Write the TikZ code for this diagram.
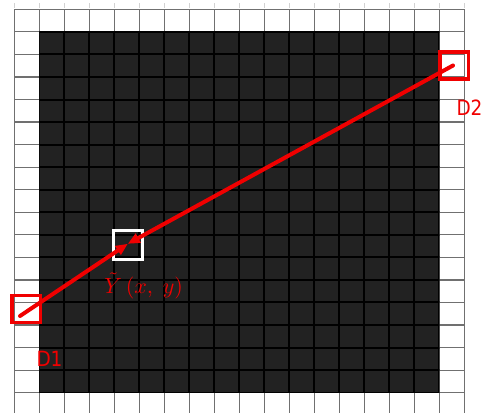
\documentclass[tikz,border=0pt]{standalone}
\usepackage{fontspec}
\newfontfamily\labfont[FakeStretch=0.88]{DejaVu Sans}
\usetikzlibrary{arrows.meta}
\definecolor{darkfill}{HTML}{222222}
\definecolor{gridgray}{HTML}{707070}
\definecolor{sred}{HTML}{F00000}
\begin{document}
\begin{tikzpicture}[x=1pt,y=-1pt,
  sq/.style={draw=sred, line width=3.5pt, minimum width=28.5pt, minimum height=27pt, inner sep=0pt},
  ysq/.style={draw=white, line width=3pt, minimum width=29pt, minimum height=28.5pt, inner sep=0pt},
  ray/.style={draw=sred, line width=4pt, line cap=round, -{Triangle[length=12pt,width=10pt]}},
  dlab/.style={text=sred, font=\labfont\fontsize{21}{24}\selectfont, inner sep=0pt, anchor=base},
  gline/.style={draw=gridgray, line width=1.2pt},
  bline/.style={draw=black, line width=2pt},
]
\useasboundingbox (0,0) rectangle (492,413);
\fill[white] (0,0) rectangle (492,413);
% faint ticks above the top row
\foreach \i in {0,...,18}
  \draw[gray!35, line width=1pt] ({14.3+25*\i},3) -- ({14.3+25*\i},8);
% light grid
\foreach \i in {0,...,18}
  \draw[gline] ({14.3+25*\i},9.3) -- ({14.3+25*\i},413);
\foreach \j in {0,...,18}
  \draw[gline] (14.3,{9.3+22.55*\j}) -- (464.3,{9.3+22.55*\j});
% dark region
\fill[darkfill] (39.3,31.85) rectangle (439.3,392.65);
\begin{scope}
  \clip (39.3,31.85) rectangle (439.3,392.65);
  \foreach \i in {0,...,18}
    \draw[bline] ({14.3+25*\i},9.3) -- ({14.3+25*\i},413);
  \foreach \j in {0,...,18}
    \draw[bline] (14.3,{9.3+22.55*\j}) -- (464.3,{9.3+22.55*\j});
\end{scope}
% squares
\node[sq] (D1) at (26.3,308.8) {};
\node[sq] (D2) at (454.2,65.7) {};
\node[ysq] (Y) at (127.8,244.8) {};
\coordinate (y0) at (127.8,243.8);
\coordinate (d1p) at (20,316);
\coordinate (d2p) at (453,65.5);
% rays
\draw[ray] (d1p) -- (y0);
\draw[ray] (d2p) -- (y0);
% labels
\node[dlab] (L1) at (49.5,366) {D1};
\node[dlab] (L2) at (469.5,115) {D2};
\node[text=sred, scale=2.2, anchor=base, inner sep=0pt] (LY) at (143.7,293) {$\tilde{Y}\,(x,\;y)$};
\end{tikzpicture}
\end{document}
